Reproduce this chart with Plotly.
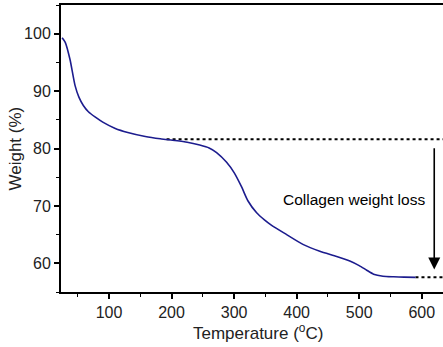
import plotly.graph_objects as go

temperature = [25, 30, 37.6, 45.6, 52, 58.9, 67, 77.6, 90, 110, 130, 158, 182, 205, 225,
               245, 260, 272, 288, 300, 312, 322, 336, 348, 360, 384, 410, 437, 464, 485,
               500, 512, 523, 538, 555, 572, 590]
weight = [99.3, 98.5, 95.5, 91.0, 88.9, 87.5, 86.4, 85.5, 84.6, 83.5, 82.8, 82.1, 81.7, 81.4,
          81.1, 80.6, 80.1, 79.3, 77.6, 75.8, 73.3, 70.9, 68.8, 67.6, 66.6, 65.0, 63.3, 62.1,
          61.2, 60.4, 59.6, 58.8, 58.1, 57.75, 57.65, 57.6, 57.55]

top_ref_x = [192, 640]
top_ref_y = [81.6, 81.6]
bottom_ref_x = [590, 640]
bottom_ref_y = [57.55, 57.55]

arrow_x = 620
arrow_from = 80.4
arrow_to = 58.9
label_text = "Collagen weight loss"
label_x = 492
label_y = 71.1

x_ticks = [100, 200, 300, 400, 500, 600]
y_ticks = [60, 70, 80, 90, 100]

FONT = "Liberation Sans, Arial, sans-serif"

fig = go.Figure()
fig.add_trace(go.Scatter(x=top_ref_x, y=top_ref_y, mode="lines",
                         line=dict(color="black", width=2, dash="dot"), hoverinfo="skip"))
fig.add_trace(go.Scatter(x=bottom_ref_x, y=bottom_ref_y, mode="lines",
                         line=dict(color="black", width=2, dash="dot"), hoverinfo="skip"))
fig.add_trace(go.Scatter(x=temperature, y=weight, mode="lines",
                         line=dict(color="#1c1c8e", width=1.6, shape="spline", smoothing=0.6)))

fig.add_annotation(x=arrow_x, y=arrow_to, ax=arrow_x, ay=arrow_from,
                   xref="x", yref="y", axref="x", ayref="y",
                   showarrow=True, arrowhead=2, arrowsize=1.5, arrowwidth=1.6,
                   arrowcolor="black", text=" ", font=dict(size=1))
fig.add_annotation(x=label_x, y=label_y, xref="x", yref="y", text=label_text,
                   showarrow=False, font=dict(size=15.5, color="black", family=FONT))

# axis titles placed as annotations (plot area: x 61..443 px, y 5..291.7 px)
fig.add_annotation(x=-0.1204, y=0.5, xref="paper", yref="paper", text="Weight (%)",
                   textangle=-90, showarrow=False, xanchor="center", yanchor="middle",
                   font=dict(size=17, color="#222", family=FONT))
fig.add_annotation(x=0.516, y=-0.1395, xref="paper", yref="paper",
                   text="Temperature (<sup>o</sup>C)", showarrow=False,
                   xanchor="center", yanchor="middle",
                   font=dict(size=17, color="#222", family=FONT))

axis_font = dict(family=FONT, size=16, color="#222")

fig.update_xaxes(range=[23.2, 634], tickvals=x_ticks, ticks="outside", ticklen=5,
                 tickwidth=1.5, tickcolor="black", showline=True, linecolor="black",
                 linewidth=2, mirror=True, showgrid=False, zeroline=False, automargin=False,
                 minor=dict(dtick=50, tick0=0, ticks="outside", ticklen=3, tickcolor="black",
                            tickwidth=1.2),
                 tickfont=axis_font)
fig.update_yaxes(range=[55, 105], tickvals=y_ticks, ticks="outside", ticklen=5,
                 tickwidth=1.5, tickcolor="black", showline=True, linecolor="black",
                 linewidth=2, mirror=False, showgrid=False, zeroline=False, automargin=False,
                 minor=dict(dtick=5, tick0=0, ticks="outside", ticklen=3, tickcolor="black",
                            tickwidth=1.2),
                 tickfont=axis_font)

fig.update_layout(width=443, height=347, margin=dict(l=61, r=0, t=5, b=55),
                  plot_bgcolor="white", paper_bgcolor="white", showlegend=False)

fig.write_html("out.html", config={"displayModeBar": False},
               post_script="document.body.style.margin='0';document.body.style.overflow='hidden';")
